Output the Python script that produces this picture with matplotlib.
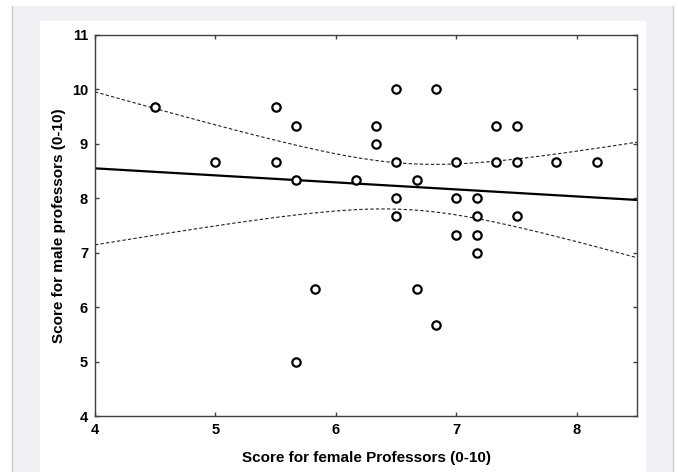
import numpy as np
import matplotlib.pyplot as plt
from matplotlib.patches import Rectangle

# scores (female vs male professors)
female = [4.5, 5.0, 5.5, 5.5, 5.67, 5.67, 5.67, 5.83, 6.17, 6.33, 6.33,
          6.5, 6.5, 6.5, 6.5, 6.67, 6.67, 6.83, 6.83, 7.0, 7.0, 7.0,
          7.17, 7.17, 7.17, 7.17, 7.33, 7.33, 7.5, 7.5, 7.5, 7.83, 8.17]
male = [9.67, 8.67, 9.67, 8.67, 9.33, 8.33, 5.0, 6.33, 8.33, 9.33, 9.0,
        10.0, 8.67, 8.0, 7.67, 8.33, 6.33, 10.0, 5.67, 8.67, 8.0, 7.33,
        8.0, 7.67, 7.33, 7.0, 9.33, 8.67, 9.33, 8.67, 7.67, 8.67, 8.67]

x_ticks = [4, 5, 6, 7, 8]
y_ticks = [4, 5, 6, 7, 8, 9, 10, 11]

# regression line as printed on the chart
slope = -0.129
intercept = 9.066
T_95 = 2.0  # t value for the 95% band

plt.rcParams['font.family'] = ['Liberation Sans', 'DejaVu Sans']
plt.rcParams['font.weight'] = 'bold'

fig = plt.figure(figsize=(6.78, 4.72), dpi=100)
fig.patch.set_facecolor('white')

# grey frame and white panel behind the plot
W, H = 678, 472
fig.patches.append(Rectangle((12 / W, 0), 661 / W, 466 / H, transform=fig.transFigure,
                             facecolor='#f0f0f5', edgecolor='none', zorder=-3))
fig.add_artist(plt.Line2D([12 / W, 12 / W], [0, 466 / H], transform=fig.transFigure,
                          color='#c8c8d0', lw=1, zorder=-2))
fig.add_artist(plt.Line2D([673 / W, 673 / W], [0, 466 / H], transform=fig.transFigure,
                          color='#c8c8d0', lw=1, zorder=-2))
fig.patches.append(Rectangle((40 / W, 0), 606 / W, 451 / H, transform=fig.transFigure,
                             facecolor='white', edgecolor='none', zorder=-1))

ax = fig.add_axes([95 / W, 1 - 416 / H, 542 / W, 381 / H])

x = np.array(female)
y = np.array(male)
n = len(x)
xs = np.linspace(4, 8.5, 200)
fit = intercept + slope * xs
resid = y - (intercept + slope * x)
s = np.sqrt(np.sum(resid ** 2) / (n - 2))
se = s * np.sqrt(1 / n + (xs - x.mean()) ** 2 / np.sum((x - x.mean()) ** 2))

ax.plot(xs, fit, color='black', lw=1.6, zorder=2)
ax.plot(xs, fit + T_95 * se, color='#222222', lw=0.8, ls=(0, (3, 2)), zorder=2)
ax.plot(xs, fit - T_95 * se, color='#222222', lw=0.8, ls=(0, (3, 2)), zorder=2)

ax.plot(x, y, 'o', ms=6, mfc='white', mec='black', mew=1.6, zorder=3)

ax.set_xlim(4, 8.5)
ax.set_ylim(4, 11)
ax.set_xticks(x_ticks)
ax.set_yticks(y_ticks)
ax.tick_params(direction='in', length=3, width=1, top=True, right=True,
               labelsize=10.5, colors='#404040', labelcolor='black', pad=5)
for sp in ax.spines.values():
    sp.set_color('#404040')
    sp.set_linewidth(1)

ax.set_xlabel('Score for female Professors (0-10)', fontsize=11, fontweight='bold', labelpad=10)
ax.set_ylabel('Score for male professors (0-10)', fontsize=11, fontweight='bold', labelpad=4)

fig.savefig('out.png', dpi=100)
